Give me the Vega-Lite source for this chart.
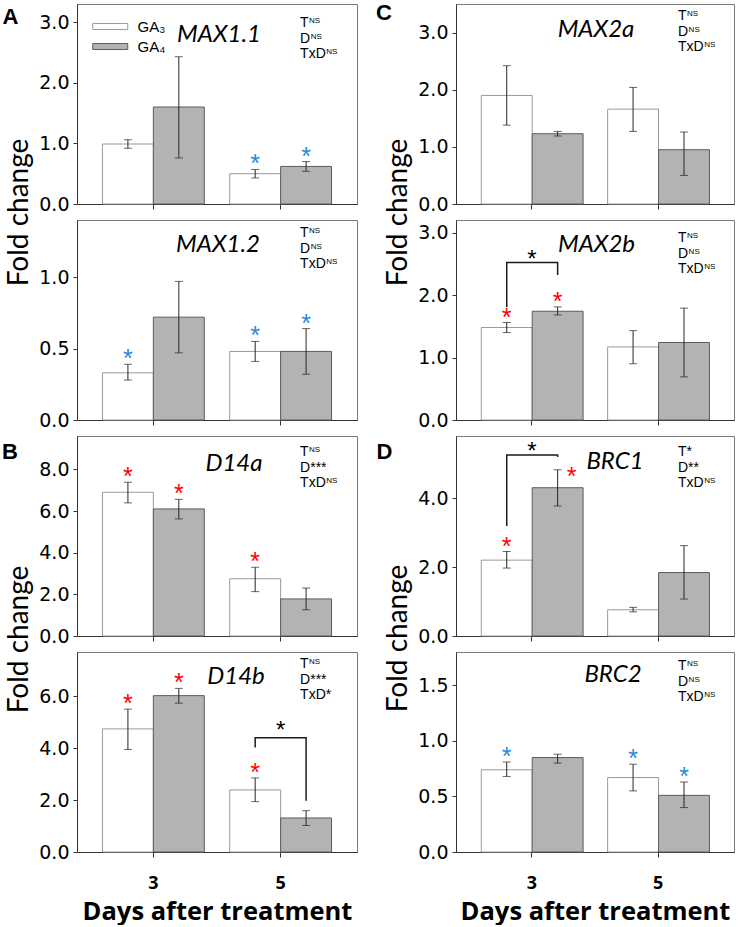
{
"$schema":"https://vega.github.io/schema/vega-lite/v6.json",
"background":"white",
"padding":{"left":1,"top":0,"right":0,"bottom":0},
"config":{
 "view":{"stroke":"#7a7a7a","strokeWidth":1},
 "axis":{"grid":false,"domainColor":"#333333","tickColor":"#333333","labelColor":"#000000","titleColor":"#000000","domainWidth":1,"tickWidth":1},
 "axisY":{"labelFont":"DejaVu Sans","labelFontSize":19,"tickSize":4,"labelPadding":4},
 "axisX":{"tickSize":5}
},
"datasets":{
 "bars":[
  {"panel":"A1","day":"3","ga":"GA3","mean":0.99,"lo":0.92,"hi":1.06,"sig":"ns"},
  {"panel":"A1","day":"3","ga":"GA4","mean":1.6,"lo":0.76,"hi":2.43,"sig":"ns"},
  {"panel":"A1","day":"5","ga":"GA3","mean":0.5,"lo":0.43,"hi":0.57,"sig":"down"},
  {"panel":"A1","day":"5","ga":"GA4","mean":0.62,"lo":0.54,"hi":0.7,"sig":"down"},
  {"panel":"A2","day":"3","ga":"GA3","mean":0.33,"lo":0.28,"hi":0.39,"sig":"down"},
  {"panel":"A2","day":"3","ga":"GA4","mean":0.72,"lo":0.47,"hi":0.97,"sig":"ns"},
  {"panel":"A2","day":"5","ga":"GA3","mean":0.48,"lo":0.41,"hi":0.55,"sig":"down"},
  {"panel":"A2","day":"5","ga":"GA4","mean":0.48,"lo":0.32,"hi":0.64,"sig":"down"},
  {"panel":"B1","day":"3","ga":"GA3","mean":6.9,"lo":6.39,"hi":7.38,"sig":"up"},
  {"panel":"B1","day":"3","ga":"GA4","mean":6.1,"lo":5.62,"hi":6.56,"sig":"up"},
  {"panel":"B1","day":"5","ga":"GA3","mean":2.75,"lo":2.13,"hi":3.3,"sig":"up"},
  {"panel":"B1","day":"5","ga":"GA4","mean":1.78,"lo":1.26,"hi":2.3,"sig":"ns"},
  {"panel":"B2","day":"3","ga":"GA3","mean":4.74,"lo":3.95,"hi":5.5,"sig":"up"},
  {"panel":"B2","day":"3","ga":"GA4","mean":6.02,"lo":5.73,"hi":6.3,"sig":"up"},
  {"panel":"B2","day":"5","ga":"GA3","mean":2.39,"lo":1.94,"hi":2.85,"sig":"up"},
  {"panel":"B2","day":"5","ga":"GA4","mean":1.31,"lo":1.02,"hi":1.59,"sig":"ns"},
  {"panel":"C1","day":"3","ga":"GA3","mean":1.9,"lo":1.38,"hi":2.42,"sig":"ns"},
  {"panel":"C1","day":"3","ga":"GA4","mean":1.23,"lo":1.19,"hi":1.27,"sig":"ns"},
  {"panel":"C1","day":"5","ga":"GA3","mean":1.66,"lo":1.27,"hi":2.04,"sig":"ns"},
  {"panel":"C1","day":"5","ga":"GA4","mean":0.95,"lo":0.5,"hi":1.26,"sig":"ns"},
  {"panel":"C2","day":"3","ga":"GA3","mean":1.48,"lo":1.4,"hi":1.56,"sig":"up"},
  {"panel":"C2","day":"3","ga":"GA4","mean":1.74,"lo":1.68,"hi":1.81,"sig":"up"},
  {"panel":"C2","day":"5","ga":"GA3","mean":1.17,"lo":0.9,"hi":1.43,"sig":"ns"},
  {"panel":"C2","day":"5","ga":"GA4","mean":1.24,"lo":0.69,"hi":1.79,"sig":"ns"},
  {"panel":"D1","day":"3","ga":"GA3","mean":2.2,"lo":1.97,"hi":2.45,"sig":"up"},
  {"panel":"D1","day":"3","ga":"GA4","mean":4.3,"lo":3.77,"hi":4.82,"sig":"up"},
  {"panel":"D1","day":"5","ga":"GA3","mean":0.76,"lo":0.7,"hi":0.83,"sig":"ns"},
  {"panel":"D1","day":"5","ga":"GA4","mean":1.84,"lo":1.07,"hi":2.62,"sig":"ns"},
  {"panel":"D2","day":"3","ga":"GA3","mean":0.74,"lo":0.68,"hi":0.81,"sig":"down"},
  {"panel":"D2","day":"3","ga":"GA4","mean":0.85,"lo":0.8,"hi":0.88,"sig":"ns"},
  {"panel":"D2","day":"5","ga":"GA3","mean":0.67,"lo":0.55,"hi":0.79,"sig":"down"},
  {"panel":"D2","day":"5","ga":"GA4","mean":0.51,"lo":0.4,"hi":0.63,"sig":"down"}
 ],
 "stats":[
  {"panel":"A1","base":"T\nD\nTxD","s1":"NS","s2":"NS","s3":"NS"},
  {"panel":"A2","base":"T\nD\nTxD","s1":"NS","s2":"NS","s3":"NS"},
  {"panel":"B1","base":"T\nD***\nTxD","s1":"NS","s2":"","s3":"NS"},
  {"panel":"B2","base":"T\nD***\nTxD*","s1":"NS","s2":"","s3":""},
  {"panel":"C1","base":"T\nD\nTxD","s1":"NS","s2":"NS","s3":"NS"},
  {"panel":"C2","base":"T\nD\nTxD","s1":"NS","s2":"NS","s3":"NS"},
  {"panel":"D1","base":"T*\nD**\nTxD","s1":"","s2":"","s3":"NS"},
  {"panel":"D2","base":"T\nD\nTxD","s1":"NS","s2":"NS","s3":"NS"}
 ],
 "brackets":[
  {"panel":"B2","day":"5","ga":"GA3","seq":1,"val":4.02},
  {"panel":"B2","day":"5","ga":"GA3","seq":2,"val":4.4},
  {"panel":"B2","day":"5","ga":"GA4","seq":3,"val":4.4},
  {"panel":"B2","day":"5","ga":"GA4","seq":4,"val":1.97},
  {"panel":"C2","day":"3","ga":"GA3","seq":1,"val":1.81},
  {"panel":"C2","day":"3","ga":"GA3","seq":2,"val":2.52},
  {"panel":"C2","day":"3","ga":"GA4","seq":3,"val":2.52},
  {"panel":"C2","day":"3","ga":"GA4","seq":4,"val":2.32},
  {"panel":"D1","day":"3","ga":"GA3","seq":1,"val":3.19},
  {"panel":"D1","day":"3","ga":"GA3","seq":2,"val":5.25},
  {"panel":"D1","day":"3","ga":"GA4","seq":3,"val":5.25},
  {"panel":"D1","day":"3","ga":"GA4","seq":4,"val":5.19}
 ]
},
"resolve":{"scale":{"fill":"independent","stroke":"independent"}},
"columns":2,
"spacing":{"row":16,"column":99},
"bounds":"flush",
"concat":[
{"width":280,"height":200,
 "title":{"text":"MAX1.1","orient":"top","anchor":"middle","frame":"group","offset":-43,"baseline":"top","dx":2,"font":"Lato","fontStyle":"italic","fontWeight":"normal","fontSize":24,"color":"black"},
 "data":{"name":"bars"},"transform":[{"filter":{"field":"panel","equal":"A1"}}],
 "layer":[
  {"mark":{"type":"bar","strokeWidth":1},"encoding":{
   "x":{"field":"day","type":"nominal","scale":{"type":"band","paddingInner":0.2,"paddingOuter":0.2},"axis":{"labels":false,"title":"A","titleX":-67,"titleY":-181,"titleAngle":0,"titleAlign":"center","titleBaseline":"alphabetic","titleFont":"Liberation Sans","titleFontWeight":"bold","titleFontSize":22}},
   "xOffset":{"field":"ga","type":"nominal","scale":{"paddingInner":0,"paddingOuter":0}},
   "y":{"field":"mean","type":"quantitative","scale":{"domain":[0,3.3],"nice":false},"axis":{"values":[0,0.5,1,1.5,2,2.5,3],"labelExpr":"datum.value % 1 === 0 ? format(datum.value, '.1f') : ''","title":"Fold change","titleAngle":-90,"titleX":-50,"titleY":208,"titleAlign":"center","titleBaseline":"alphabetic","titleFont":"Lato","titleFontWeight":"normal","titleFontSize":28}},
   "fill":{"field":"ga","type":"nominal","scale":{"domain":["GA3","GA4"],"range":["#ffffff","#b3b3b3"]},"legend":{"orient":"none","legendX":15,"legendY":13,"title":null,"symbolType":"M-1,-0.34H3V0.34H-1Z","symbolSize":306,"symbolStrokeWidth":1,"labelFont":"Liberation Sans","labelFontSize":15,"labelOffset":26.5,"rowPadding":2,"padding":0,"labelExpr":"datum.label === 'GA3' ? 'GA₃' : 'GA₄'"}},
   "stroke":{"field":"ga","type":"nominal","scale":{"domain":["GA3","GA4"],"range":["#9a9a9a","#5c5c5c"]},"legend":{"orient":"none","legendX":15,"legendY":13,"title":null,"symbolType":"M-1,-0.34H3V0.34H-1Z","symbolSize":306,"symbolStrokeWidth":1,"labelFont":"Liberation Sans","labelFontSize":15,"labelOffset":26.5,"rowPadding":2,"padding":0,"labelExpr":"datum.label === 'GA3' ? 'GA₃' : 'GA₄'"}}}},
  {"mark":{"type":"rule","color":"#262626","strokeWidth":1},"encoding":{"x":{"field":"day","type":"nominal"},"xOffset":{"field":"ga","type":"nominal"},"y":{"field":"lo","type":"quantitative"},"y2":{"field":"hi"}}},
  {"transform":[{"fold":["lo","hi"],"as":["end","val"]}],"mark":{"type":"tick","color":"#262626","thickness":1,"size":8},"encoding":{"x":{"field":"day","type":"nominal"},"xOffset":{"field":"ga","type":"nominal"},"y":{"field":"val","type":"quantitative"}}},
  {"transform":[{"filter":"datum.sig === 'up' || datum.sig === 'down'"}],"mark":{"type":"text","text":"*","font":"Liberation Sans","fontSize":25,"baseline":"alphabetic","dy":3},"encoding":{"x":{"field":"day","type":"nominal"},"xOffset":{"field":"ga","type":"nominal"},"y":{"field":"hi","type":"quantitative"},"color":{"field":"sig","type":"nominal","scale":{"domain":["down","up"],"range":["#1e8bde","#ff0000"]},"legend":null}}},
  {"data":{"name":"stats"},"transform":[{"filter":{"field":"panel","equal":"A1"}}],"mark":{"type":"text","align":"left","baseline":"top","font":"Liberation Sans","fontSize":14,"lineHeight":15.5,"lineBreak":"\n","dx":-6,"dy":12},"encoding":{"x":{"datum":"5","type":"nominal"},"xOffset":{"datum":"GA4","type":"nominal"},"y":{"datum":3.3,"type":"quantitative"},"text":{"field":"base","type":"nominal"}}},
  {"data":{"name":"stats"},"transform":[{"filter":{"field":"panel","equal":"A1"}}],"mark":{"type":"text","align":"left","baseline":"top","font":"Liberation Sans","fontSize":8,"dx":3,"dy":13},"encoding":{"x":{"datum":"5","type":"nominal"},"xOffset":{"datum":"GA4","type":"nominal"},"y":{"datum":3.3,"type":"quantitative"},"text":{"field":"s1","type":"nominal"}}},
  {"data":{"name":"stats"},"transform":[{"filter":{"field":"panel","equal":"A1"}}],"mark":{"type":"text","align":"left","baseline":"top","font":"Liberation Sans","fontSize":8,"dx":4.6,"dy":28.5},"encoding":{"x":{"datum":"5","type":"nominal"},"xOffset":{"datum":"GA4","type":"nominal"},"y":{"datum":3.3,"type":"quantitative"},"text":{"field":"s2","type":"nominal"}}},
  {"data":{"name":"stats"},"transform":[{"filter":{"field":"panel","equal":"A1"}}],"mark":{"type":"text","align":"left","baseline":"top","font":"Liberation Sans","fontSize":8,"dx":20.2,"dy":44},"encoding":{"x":{"datum":"5","type":"nominal"},"xOffset":{"datum":"GA4","type":"nominal"},"y":{"datum":3.3,"type":"quantitative"},"text":{"field":"s3","type":"nominal"}}}
 ]},
{"width":278,"height":200,
 "title":{"text":"MAX2a","orient":"top","anchor":"middle","frame":"group","offset":-41,"baseline":"top","dx":1,"font":"Lato","fontStyle":"italic","fontWeight":"normal","fontSize":24,"color":"black"},
 "data":{"name":"bars"},"transform":[{"filter":{"field":"panel","equal":"C1"}}],
 "layer":[
  {"mark":{"type":"bar","strokeWidth":1},"encoding":{
   "x":{"field":"day","type":"nominal","scale":{"type":"band","paddingInner":0.2,"paddingOuter":0.2},"axis":{"labels":false,"title":"C","titleX":-72.5,"titleY":-185,"titleAngle":0,"titleAlign":"center","titleBaseline":"alphabetic","titleFont":"Liberation Sans","titleFontWeight":"bold","titleFontSize":22}},
   "xOffset":{"field":"ga","type":"nominal","scale":{"paddingInner":0,"paddingOuter":0}},
   "y":{"field":"mean","type":"quantitative","scale":{"domain":[0,3.5],"nice":false},"axis":{"values":[0,0.5,1,1.5,2,2.5,3,3.5],"labelExpr":"datum.value % 1 === 0 ? format(datum.value, '.1f') : ''","title":"Fold change","titleAngle":-90,"titleX":-50,"titleY":208,"titleAlign":"center","titleBaseline":"alphabetic","titleFont":"Lato","titleFontWeight":"normal","titleFontSize":28}},
   "fill":{"field":"ga","type":"nominal","scale":{"domain":["GA3","GA4"],"range":["#ffffff","#b3b3b3"]},"legend":null},
   "stroke":{"field":"ga","type":"nominal","scale":{"domain":["GA3","GA4"],"range":["#9a9a9a","#5c5c5c"]},"legend":null}}},
  {"mark":{"type":"rule","color":"#262626","strokeWidth":1},"encoding":{"x":{"field":"day","type":"nominal"},"xOffset":{"field":"ga","type":"nominal"},"y":{"field":"lo","type":"quantitative"},"y2":{"field":"hi"}}},
  {"transform":[{"fold":["lo","hi"],"as":["end","val"]}],"mark":{"type":"tick","color":"#262626","thickness":1,"size":8},"encoding":{"x":{"field":"day","type":"nominal"},"xOffset":{"field":"ga","type":"nominal"},"y":{"field":"val","type":"quantitative"}}},
  {"data":{"name":"stats"},"transform":[{"filter":{"field":"panel","equal":"C1"}}],"mark":{"type":"text","align":"left","baseline":"top","font":"Liberation Sans","fontSize":14,"lineHeight":15.5,"lineBreak":"\n","dx":-6,"dy":5},"encoding":{"x":{"datum":"5","type":"nominal"},"xOffset":{"datum":"GA4","type":"nominal"},"y":{"datum":3.5,"type":"quantitative"},"text":{"field":"base","type":"nominal"}}},
  {"data":{"name":"stats"},"transform":[{"filter":{"field":"panel","equal":"C1"}}],"mark":{"type":"text","align":"left","baseline":"top","font":"Liberation Sans","fontSize":8,"dx":3,"dy":6},"encoding":{"x":{"datum":"5","type":"nominal"},"xOffset":{"datum":"GA4","type":"nominal"},"y":{"datum":3.5,"type":"quantitative"},"text":{"field":"s1","type":"nominal"}}},
  {"data":{"name":"stats"},"transform":[{"filter":{"field":"panel","equal":"C1"}}],"mark":{"type":"text","align":"left","baseline":"top","font":"Liberation Sans","fontSize":8,"dx":4.6,"dy":21.5},"encoding":{"x":{"datum":"5","type":"nominal"},"xOffset":{"datum":"GA4","type":"nominal"},"y":{"datum":3.5,"type":"quantitative"},"text":{"field":"s2","type":"nominal"}}},
  {"data":{"name":"stats"},"transform":[{"filter":{"field":"panel","equal":"C1"}}],"mark":{"type":"text","align":"left","baseline":"top","font":"Liberation Sans","fontSize":8,"dx":20.2,"dy":37},"encoding":{"x":{"datum":"5","type":"nominal"},"xOffset":{"datum":"GA4","type":"nominal"},"y":{"datum":3.5,"type":"quantitative"},"text":{"field":"s3","type":"nominal"}}}
 ]},
{"width":280,"height":200,
 "title":{"text":"MAX1.2","orient":"top","anchor":"middle","frame":"group","offset":-37,"baseline":"top","dx":1,"font":"Lato","fontStyle":"italic","fontWeight":"normal","fontSize":24,"color":"black"},
 "data":{"name":"bars"},"transform":[{"filter":{"field":"panel","equal":"A2"}}],
 "layer":[
  {"mark":{"type":"bar","strokeWidth":1},"encoding":{
   "x":{"field":"day","type":"nominal","scale":{"type":"band","paddingInner":0.2,"paddingOuter":0.2},"axis":{"title":null,"labels":false}},
   "xOffset":{"field":"ga","type":"nominal","scale":{"paddingInner":0,"paddingOuter":0}},
   "y":{"field":"mean","type":"quantitative","scale":{"domain":[0,1.4],"nice":false},"axis":{"values":[0,0.25,0.5,0.75,1,1.25],"labelExpr":"(datum.value * 4) % 2 === 0 ? format(datum.value, '.1f') : ''","title":null}},
   "fill":{"field":"ga","type":"nominal","scale":{"domain":["GA3","GA4"],"range":["#ffffff","#b3b3b3"]},"legend":null},
   "stroke":{"field":"ga","type":"nominal","scale":{"domain":["GA3","GA4"],"range":["#9a9a9a","#5c5c5c"]},"legend":null}}},
  {"mark":{"type":"rule","color":"#262626","strokeWidth":1},"encoding":{"x":{"field":"day","type":"nominal"},"xOffset":{"field":"ga","type":"nominal"},"y":{"field":"lo","type":"quantitative"},"y2":{"field":"hi"}}},
  {"transform":[{"fold":["lo","hi"],"as":["end","val"]}],"mark":{"type":"tick","color":"#262626","thickness":1,"size":8},"encoding":{"x":{"field":"day","type":"nominal"},"xOffset":{"field":"ga","type":"nominal"},"y":{"field":"val","type":"quantitative"}}},
  {"transform":[{"filter":"datum.sig === 'up' || datum.sig === 'down'"}],"mark":{"type":"text","text":"*","font":"Liberation Sans","fontSize":25,"baseline":"alphabetic","dy":3},"encoding":{"x":{"field":"day","type":"nominal"},"xOffset":{"field":"ga","type":"nominal"},"y":{"field":"hi","type":"quantitative"},"color":{"field":"sig","type":"nominal","scale":{"domain":["down","up"],"range":["#1e8bde","#ff0000"]},"legend":null}}},
  {"data":{"name":"stats"},"transform":[{"filter":{"field":"panel","equal":"A2"}}],"mark":{"type":"text","align":"left","baseline":"top","font":"Liberation Sans","fontSize":14,"lineHeight":15.5,"lineBreak":"\n","dx":-6,"dy":6},"encoding":{"x":{"datum":"5","type":"nominal"},"xOffset":{"datum":"GA4","type":"nominal"},"y":{"datum":1.4,"type":"quantitative"},"text":{"field":"base","type":"nominal"}}},
  {"data":{"name":"stats"},"transform":[{"filter":{"field":"panel","equal":"A2"}}],"mark":{"type":"text","align":"left","baseline":"top","font":"Liberation Sans","fontSize":8,"dx":3,"dy":7},"encoding":{"x":{"datum":"5","type":"nominal"},"xOffset":{"datum":"GA4","type":"nominal"},"y":{"datum":1.4,"type":"quantitative"},"text":{"field":"s1","type":"nominal"}}},
  {"data":{"name":"stats"},"transform":[{"filter":{"field":"panel","equal":"A2"}}],"mark":{"type":"text","align":"left","baseline":"top","font":"Liberation Sans","fontSize":8,"dx":4.6,"dy":22.5},"encoding":{"x":{"datum":"5","type":"nominal"},"xOffset":{"datum":"GA4","type":"nominal"},"y":{"datum":1.4,"type":"quantitative"},"text":{"field":"s2","type":"nominal"}}},
  {"data":{"name":"stats"},"transform":[{"filter":{"field":"panel","equal":"A2"}}],"mark":{"type":"text","align":"left","baseline":"top","font":"Liberation Sans","fontSize":8,"dx":20.2,"dy":38},"encoding":{"x":{"datum":"5","type":"nominal"},"xOffset":{"datum":"GA4","type":"nominal"},"y":{"datum":1.4,"type":"quantitative"},"text":{"field":"s3","type":"nominal"}}}
 ]},
{"width":278,"height":200,
 "title":{"text":"MAX2b","orient":"top","anchor":"middle","frame":"group","offset":-37,"baseline":"top","dx":1.5,"font":"Lato","fontStyle":"italic","fontWeight":"normal","fontSize":24,"color":"black"},
 "data":{"name":"bars"},"transform":[{"filter":{"field":"panel","equal":"C2"}}],
 "layer":[
  {"mark":{"type":"bar","strokeWidth":1},"encoding":{
   "x":{"field":"day","type":"nominal","scale":{"type":"band","paddingInner":0.2,"paddingOuter":0.2},"axis":{"title":null,"labels":false}},
   "xOffset":{"field":"ga","type":"nominal","scale":{"paddingInner":0,"paddingOuter":0}},
   "y":{"field":"mean","type":"quantitative","scale":{"domain":[0,3.2],"nice":false},"axis":{"values":[0,0.5,1,1.5,2,2.5,3],"labelExpr":"datum.value % 1 === 0 ? format(datum.value, '.1f') : ''","title":null}},
   "fill":{"field":"ga","type":"nominal","scale":{"domain":["GA3","GA4"],"range":["#ffffff","#b3b3b3"]},"legend":null},
   "stroke":{"field":"ga","type":"nominal","scale":{"domain":["GA3","GA4"],"range":["#9a9a9a","#5c5c5c"]},"legend":null}}},
  {"mark":{"type":"rule","color":"#262626","strokeWidth":1},"encoding":{"x":{"field":"day","type":"nominal"},"xOffset":{"field":"ga","type":"nominal"},"y":{"field":"lo","type":"quantitative"},"y2":{"field":"hi"}}},
  {"transform":[{"fold":["lo","hi"],"as":["end","val"]}],"mark":{"type":"tick","color":"#262626","thickness":1,"size":8},"encoding":{"x":{"field":"day","type":"nominal"},"xOffset":{"field":"ga","type":"nominal"},"y":{"field":"val","type":"quantitative"}}},
  {"transform":[{"filter":"datum.sig === 'up' || datum.sig === 'down'"}],"mark":{"type":"text","text":"*","font":"Liberation Sans","fontSize":25,"baseline":"alphabetic","dy":3},"encoding":{"x":{"field":"day","type":"nominal"},"xOffset":{"field":"ga","type":"nominal"},"y":{"field":"hi","type":"quantitative"},"color":{"field":"sig","type":"nominal","scale":{"domain":["down","up"],"range":["#1e8bde","#ff0000"]},"legend":null}}},
  {"data":{"name":"brackets"},"transform":[{"filter":{"field":"panel","equal":"C2"}}],"mark":{"type":"line","color":"#1a1a1a","strokeWidth":1.5},"encoding":{"x":{"field":"day","type":"nominal"},"xOffset":{"field":"ga","type":"nominal"},"y":{"field":"val","type":"quantitative"},"order":{"field":"seq","type":"quantitative"}}},
  {"data":{"name":"brackets"},"transform":[{"filter":"datum.panel === 'C2' && datum.seq === 2"}],"mark":{"type":"text","text":"*","font":"Liberation Sans","fontSize":24,"baseline":"alphabetic","dy":4,"color":"#000000"},"encoding":{"x":{"field":"day","type":"nominal"},"y":{"field":"val","type":"quantitative"}}},
  {"data":{"name":"stats"},"transform":[{"filter":{"field":"panel","equal":"C2"}}],"mark":{"type":"text","align":"left","baseline":"top","font":"Liberation Sans","fontSize":14,"lineHeight":15.5,"lineBreak":"\n","dx":-6,"dy":11},"encoding":{"x":{"datum":"5","type":"nominal"},"xOffset":{"datum":"GA4","type":"nominal"},"y":{"datum":3.2,"type":"quantitative"},"text":{"field":"base","type":"nominal"}}},
  {"data":{"name":"stats"},"transform":[{"filter":{"field":"panel","equal":"C2"}}],"mark":{"type":"text","align":"left","baseline":"top","font":"Liberation Sans","fontSize":8,"dx":3,"dy":12},"encoding":{"x":{"datum":"5","type":"nominal"},"xOffset":{"datum":"GA4","type":"nominal"},"y":{"datum":3.2,"type":"quantitative"},"text":{"field":"s1","type":"nominal"}}},
  {"data":{"name":"stats"},"transform":[{"filter":{"field":"panel","equal":"C2"}}],"mark":{"type":"text","align":"left","baseline":"top","font":"Liberation Sans","fontSize":8,"dx":4.6,"dy":27.5},"encoding":{"x":{"datum":"5","type":"nominal"},"xOffset":{"datum":"GA4","type":"nominal"},"y":{"datum":3.2,"type":"quantitative"},"text":{"field":"s2","type":"nominal"}}},
  {"data":{"name":"stats"},"transform":[{"filter":{"field":"panel","equal":"C2"}}],"mark":{"type":"text","align":"left","baseline":"top","font":"Liberation Sans","fontSize":8,"dx":20.2,"dy":43},"encoding":{"x":{"datum":"5","type":"nominal"},"xOffset":{"datum":"GA4","type":"nominal"},"y":{"datum":3.2,"type":"quantitative"},"text":{"field":"s3","type":"nominal"}}}
 ]},
{"width":280,"height":200,
 "title":{"text":"D14a","orient":"top","anchor":"middle","frame":"group","offset":-40,"baseline":"top","dx":17,"font":"Lato","fontStyle":"italic","fontWeight":"normal","fontSize":24,"color":"black"},
 "data":{"name":"bars"},"transform":[{"filter":{"field":"panel","equal":"B1"}}],
 "layer":[
  {"mark":{"type":"bar","strokeWidth":1},"encoding":{
   "x":{"field":"day","type":"nominal","scale":{"type":"band","paddingInner":0.2,"paddingOuter":0.2},"axis":{"labels":false,"title":"B","titleX":-67.5,"titleY":-178,"titleAngle":0,"titleAlign":"center","titleBaseline":"alphabetic","titleFont":"Liberation Sans","titleFontWeight":"bold","titleFontSize":22}},
   "xOffset":{"field":"ga","type":"nominal","scale":{"paddingInner":0,"paddingOuter":0}},
   "y":{"field":"mean","type":"quantitative","scale":{"domain":[0,9.6],"nice":false},"axis":{"values":[0,1,2,3,4,5,6,7,8,9],"labelExpr":"datum.value % 2 === 0 ? format(datum.value, '.1f') : ''","title":"Fold change","titleAngle":-90,"titleX":-50,"titleY":203,"titleAlign":"center","titleBaseline":"alphabetic","titleFont":"Lato","titleFontWeight":"normal","titleFontSize":28}},
   "fill":{"field":"ga","type":"nominal","scale":{"domain":["GA3","GA4"],"range":["#ffffff","#b3b3b3"]},"legend":null},
   "stroke":{"field":"ga","type":"nominal","scale":{"domain":["GA3","GA4"],"range":["#9a9a9a","#5c5c5c"]},"legend":null}}},
  {"mark":{"type":"rule","color":"#262626","strokeWidth":1},"encoding":{"x":{"field":"day","type":"nominal"},"xOffset":{"field":"ga","type":"nominal"},"y":{"field":"lo","type":"quantitative"},"y2":{"field":"hi"}}},
  {"transform":[{"fold":["lo","hi"],"as":["end","val"]}],"mark":{"type":"tick","color":"#262626","thickness":1,"size":8},"encoding":{"x":{"field":"day","type":"nominal"},"xOffset":{"field":"ga","type":"nominal"},"y":{"field":"val","type":"quantitative"}}},
  {"transform":[{"filter":"datum.sig === 'up' || datum.sig === 'down'"}],"mark":{"type":"text","text":"*","font":"Liberation Sans","fontSize":25,"baseline":"alphabetic","dy":3},"encoding":{"x":{"field":"day","type":"nominal"},"xOffset":{"field":"ga","type":"nominal"},"y":{"field":"hi","type":"quantitative"},"color":{"field":"sig","type":"nominal","scale":{"domain":["down","up"],"range":["#1e8bde","#ff0000"]},"legend":null}}},
  {"data":{"name":"stats"},"transform":[{"filter":{"field":"panel","equal":"B1"}}],"mark":{"type":"text","align":"left","baseline":"top","font":"Liberation Sans","fontSize":14,"lineHeight":15.5,"lineBreak":"\n","dx":-6,"dy":9},"encoding":{"x":{"datum":"5","type":"nominal"},"xOffset":{"datum":"GA4","type":"nominal"},"y":{"datum":9.6,"type":"quantitative"},"text":{"field":"base","type":"nominal"}}},
  {"data":{"name":"stats"},"transform":[{"filter":{"field":"panel","equal":"B1"}}],"mark":{"type":"text","align":"left","baseline":"top","font":"Liberation Sans","fontSize":8,"dx":3,"dy":10},"encoding":{"x":{"datum":"5","type":"nominal"},"xOffset":{"datum":"GA4","type":"nominal"},"y":{"datum":9.6,"type":"quantitative"},"text":{"field":"s1","type":"nominal"}}},
  {"data":{"name":"stats"},"transform":[{"filter":{"field":"panel","equal":"B1"}}],"mark":{"type":"text","align":"left","baseline":"top","font":"Liberation Sans","fontSize":8,"dx":4.6,"dy":25.5},"encoding":{"x":{"datum":"5","type":"nominal"},"xOffset":{"datum":"GA4","type":"nominal"},"y":{"datum":9.6,"type":"quantitative"},"text":{"field":"s2","type":"nominal"}}},
  {"data":{"name":"stats"},"transform":[{"filter":{"field":"panel","equal":"B1"}}],"mark":{"type":"text","align":"left","baseline":"top","font":"Liberation Sans","fontSize":8,"dx":20.2,"dy":41},"encoding":{"x":{"datum":"5","type":"nominal"},"xOffset":{"datum":"GA4","type":"nominal"},"y":{"datum":9.6,"type":"quantitative"},"text":{"field":"s3","type":"nominal"}}}
 ]},
{"width":278,"height":200,
 "title":{"text":"BRC1","orient":"top","anchor":"middle","frame":"group","offset":-38,"baseline":"top","dx":20,"font":"Lato","fontStyle":"italic","fontWeight":"normal","fontSize":24,"color":"black"},
 "data":{"name":"bars"},"transform":[{"filter":{"field":"panel","equal":"D1"}}],
 "layer":[
  {"mark":{"type":"bar","strokeWidth":1},"encoding":{
   "x":{"field":"day","type":"nominal","scale":{"type":"band","paddingInner":0.2,"paddingOuter":0.2},"axis":{"labels":false,"title":"D","titleX":-72,"titleY":-178,"titleAngle":0,"titleAlign":"center","titleBaseline":"alphabetic","titleFont":"Liberation Sans","titleFontWeight":"bold","titleFontSize":22}},
   "xOffset":{"field":"ga","type":"nominal","scale":{"paddingInner":0,"paddingOuter":0}},
   "y":{"field":"mean","type":"quantitative","scale":{"domain":[0,5.8],"nice":false},"axis":{"values":[0,0.5,1,1.5,2,2.5,3,3.5,4,4.5,5,5.5],"labelExpr":"datum.value % 1 === 0 ? format(datum.value, '.1f') : ''","title":"Fold change","titleAngle":-90,"titleX":-50,"titleY":202,"titleAlign":"center","titleBaseline":"alphabetic","titleFont":"Lato","titleFontWeight":"normal","titleFontSize":28}},
   "fill":{"field":"ga","type":"nominal","scale":{"domain":["GA3","GA4"],"range":["#ffffff","#b3b3b3"]},"legend":null},
   "stroke":{"field":"ga","type":"nominal","scale":{"domain":["GA3","GA4"],"range":["#9a9a9a","#5c5c5c"]},"legend":null}}},
  {"mark":{"type":"rule","color":"#262626","strokeWidth":1},"encoding":{"x":{"field":"day","type":"nominal"},"xOffset":{"field":"ga","type":"nominal"},"y":{"field":"lo","type":"quantitative"},"y2":{"field":"hi"}}},
  {"transform":[{"fold":["lo","hi"],"as":["end","val"]}],"mark":{"type":"tick","color":"#262626","thickness":1,"size":8},"encoding":{"x":{"field":"day","type":"nominal"},"xOffset":{"field":"ga","type":"nominal"},"y":{"field":"val","type":"quantitative"}}},
  {"transform":[{"filter":"(datum.sig === 'up' || datum.sig === 'down') && !(datum.day === '3' && datum.ga === 'GA4')"}],"mark":{"type":"text","text":"*","font":"Liberation Sans","fontSize":25,"baseline":"alphabetic","dy":3},"encoding":{"x":{"field":"day","type":"nominal"},"xOffset":{"field":"ga","type":"nominal"},"y":{"field":"hi","type":"quantitative"},"color":{"field":"sig","type":"nominal","scale":{"domain":["down","up"],"range":["#1e8bde","#ff0000"]},"legend":null}}},
  {"transform":[{"filter":"datum.day === '3' && datum.ga === 'GA4'"}],"mark":{"type":"text","text":"*","font":"Liberation Sans","fontSize":25,"baseline":"alphabetic","dx":14,"dy":15},"encoding":{"x":{"field":"day","type":"nominal"},"xOffset":{"field":"ga","type":"nominal"},"y":{"field":"hi","type":"quantitative"},"color":{"field":"sig","type":"nominal","scale":{"domain":["down","up"],"range":["#1e8bde","#ff0000"]},"legend":null}}},
  {"data":{"name":"brackets"},"transform":[{"filter":{"field":"panel","equal":"D1"}}],"mark":{"type":"line","color":"#1a1a1a","strokeWidth":1.5},"encoding":{"x":{"field":"day","type":"nominal"},"xOffset":{"field":"ga","type":"nominal"},"y":{"field":"val","type":"quantitative"},"order":{"field":"seq","type":"quantitative"}}},
  {"data":{"name":"brackets"},"transform":[{"filter":"datum.panel === 'D1' && datum.seq === 2"}],"mark":{"type":"text","text":"*","font":"Liberation Sans","fontSize":24,"baseline":"alphabetic","dy":4,"color":"#000000"},"encoding":{"x":{"field":"day","type":"nominal"},"y":{"field":"val","type":"quantitative"}}},
  {"data":{"name":"stats"},"transform":[{"filter":{"field":"panel","equal":"D1"}}],"mark":{"type":"text","align":"left","baseline":"top","font":"Liberation Sans","fontSize":14,"lineHeight":15.5,"lineBreak":"\n","dx":-6,"dy":9},"encoding":{"x":{"datum":"5","type":"nominal"},"xOffset":{"datum":"GA4","type":"nominal"},"y":{"datum":5.8,"type":"quantitative"},"text":{"field":"base","type":"nominal"}}},
  {"data":{"name":"stats"},"transform":[{"filter":{"field":"panel","equal":"D1"}}],"mark":{"type":"text","align":"left","baseline":"top","font":"Liberation Sans","fontSize":8,"dx":3,"dy":10},"encoding":{"x":{"datum":"5","type":"nominal"},"xOffset":{"datum":"GA4","type":"nominal"},"y":{"datum":5.8,"type":"quantitative"},"text":{"field":"s1","type":"nominal"}}},
  {"data":{"name":"stats"},"transform":[{"filter":{"field":"panel","equal":"D1"}}],"mark":{"type":"text","align":"left","baseline":"top","font":"Liberation Sans","fontSize":8,"dx":4.6,"dy":25.5},"encoding":{"x":{"datum":"5","type":"nominal"},"xOffset":{"datum":"GA4","type":"nominal"},"y":{"datum":5.8,"type":"quantitative"},"text":{"field":"s2","type":"nominal"}}},
  {"data":{"name":"stats"},"transform":[{"filter":{"field":"panel","equal":"D1"}}],"mark":{"type":"text","align":"left","baseline":"top","font":"Liberation Sans","fontSize":8,"dx":20.2,"dy":41},"encoding":{"x":{"datum":"5","type":"nominal"},"xOffset":{"datum":"GA4","type":"nominal"},"y":{"datum":5.8,"type":"quantitative"},"text":{"field":"s3","type":"nominal"}}}
 ]},
{"width":280,"height":200,
 "title":{"text":"D14b","orient":"top","anchor":"middle","frame":"group","offset":-37,"baseline":"top","dx":19,"font":"Lato","fontStyle":"italic","fontWeight":"normal","fontSize":24,"color":"black"},
 "data":{"name":"bars"},"transform":[{"filter":{"field":"panel","equal":"B2"}}],
 "layer":[
  {"mark":{"type":"bar","strokeWidth":1},"encoding":{
   "x":{"field":"day","type":"nominal","scale":{"type":"band","paddingInner":0.2,"paddingOuter":0.2},"axis":{"title":"Days after treatment","labelAngle":0,"labelFont":"Open Sans","labelFontWeight":"bold","labelFontSize":18,"labelPadding":17,"titleFont":"Open Sans","titleFontWeight":"bold","titleFontSize":25.5,"titlePadding":7}},
   "xOffset":{"field":"ga","type":"nominal","scale":{"paddingInner":0,"paddingOuter":0}},
   "y":{"field":"mean","type":"quantitative","scale":{"domain":[0,7.7],"nice":false},"axis":{"values":[0,1,2,3,4,5,6,7],"labelExpr":"datum.value % 2 === 0 ? format(datum.value, '.1f') : ''","title":null}},
   "fill":{"field":"ga","type":"nominal","scale":{"domain":["GA3","GA4"],"range":["#ffffff","#b3b3b3"]},"legend":null},
   "stroke":{"field":"ga","type":"nominal","scale":{"domain":["GA3","GA4"],"range":["#9a9a9a","#5c5c5c"]},"legend":null}}},
  {"mark":{"type":"rule","color":"#262626","strokeWidth":1},"encoding":{"x":{"field":"day","type":"nominal"},"xOffset":{"field":"ga","type":"nominal"},"y":{"field":"lo","type":"quantitative"},"y2":{"field":"hi"}}},
  {"transform":[{"fold":["lo","hi"],"as":["end","val"]}],"mark":{"type":"tick","color":"#262626","thickness":1,"size":8},"encoding":{"x":{"field":"day","type":"nominal"},"xOffset":{"field":"ga","type":"nominal"},"y":{"field":"val","type":"quantitative"}}},
  {"transform":[{"filter":"datum.sig === 'up' || datum.sig === 'down'"}],"mark":{"type":"text","text":"*","font":"Liberation Sans","fontSize":25,"baseline":"alphabetic","dy":3},"encoding":{"x":{"field":"day","type":"nominal"},"xOffset":{"field":"ga","type":"nominal"},"y":{"field":"hi","type":"quantitative"},"color":{"field":"sig","type":"nominal","scale":{"domain":["down","up"],"range":["#1e8bde","#ff0000"]},"legend":null}}},
  {"data":{"name":"brackets"},"transform":[{"filter":{"field":"panel","equal":"B2"}}],"mark":{"type":"line","color":"#1a1a1a","strokeWidth":1.5},"encoding":{"x":{"field":"day","type":"nominal"},"xOffset":{"field":"ga","type":"nominal"},"y":{"field":"val","type":"quantitative"},"order":{"field":"seq","type":"quantitative"}}},
  {"data":{"name":"brackets"},"transform":[{"filter":"datum.panel === 'B2' && datum.seq === 2"}],"mark":{"type":"text","text":"*","font":"Liberation Sans","fontSize":24,"baseline":"alphabetic","dy":0,"color":"#000000"},"encoding":{"x":{"field":"day","type":"nominal"},"y":{"field":"val","type":"quantitative"}}},
  {"data":{"name":"stats"},"transform":[{"filter":{"field":"panel","equal":"B2"}}],"mark":{"type":"text","align":"left","baseline":"top","font":"Liberation Sans","fontSize":14,"lineHeight":15.5,"lineBreak":"\n","dx":-6,"dy":5},"encoding":{"x":{"datum":"5","type":"nominal"},"xOffset":{"datum":"GA4","type":"nominal"},"y":{"datum":7.7,"type":"quantitative"},"text":{"field":"base","type":"nominal"}}},
  {"data":{"name":"stats"},"transform":[{"filter":{"field":"panel","equal":"B2"}}],"mark":{"type":"text","align":"left","baseline":"top","font":"Liberation Sans","fontSize":8,"dx":3,"dy":6},"encoding":{"x":{"datum":"5","type":"nominal"},"xOffset":{"datum":"GA4","type":"nominal"},"y":{"datum":7.7,"type":"quantitative"},"text":{"field":"s1","type":"nominal"}}},
  {"data":{"name":"stats"},"transform":[{"filter":{"field":"panel","equal":"B2"}}],"mark":{"type":"text","align":"left","baseline":"top","font":"Liberation Sans","fontSize":8,"dx":4.6,"dy":21.5},"encoding":{"x":{"datum":"5","type":"nominal"},"xOffset":{"datum":"GA4","type":"nominal"},"y":{"datum":7.7,"type":"quantitative"},"text":{"field":"s2","type":"nominal"}}},
  {"data":{"name":"stats"},"transform":[{"filter":{"field":"panel","equal":"B2"}}],"mark":{"type":"text","align":"left","baseline":"top","font":"Liberation Sans","fontSize":8,"dx":20.2,"dy":37},"encoding":{"x":{"datum":"5","type":"nominal"},"xOffset":{"datum":"GA4","type":"nominal"},"y":{"datum":7.7,"type":"quantitative"},"text":{"field":"s3","type":"nominal"}}}
 ]},
{"width":278,"height":200,
 "title":{"text":"BRC2","orient":"top","anchor":"middle","frame":"group","offset":-35,"baseline":"top","dx":18,"font":"Lato","fontStyle":"italic","fontWeight":"normal","fontSize":24,"color":"black"},
 "data":{"name":"bars"},"transform":[{"filter":{"field":"panel","equal":"D2"}}],
 "layer":[
  {"mark":{"type":"bar","strokeWidth":1},"encoding":{
   "x":{"field":"day","type":"nominal","scale":{"type":"band","paddingInner":0.2,"paddingOuter":0.2},"axis":{"title":"Days after treatment","labelAngle":0,"labelFont":"Open Sans","labelFontWeight":"bold","labelFontSize":18,"labelPadding":17,"titleFont":"Open Sans","titleFontWeight":"bold","titleFontSize":25.5,"titlePadding":7}},
   "xOffset":{"field":"ga","type":"nominal","scale":{"paddingInner":0,"paddingOuter":0}},
   "y":{"field":"mean","type":"quantitative","scale":{"domain":[0,1.8],"nice":false},"axis":{"values":[0,0.25,0.5,0.75,1,1.25,1.5,1.75],"labelExpr":"(datum.value * 4) % 2 === 0 ? format(datum.value, '.1f') : ''","title":null}},
   "fill":{"field":"ga","type":"nominal","scale":{"domain":["GA3","GA4"],"range":["#ffffff","#b3b3b3"]},"legend":null},
   "stroke":{"field":"ga","type":"nominal","scale":{"domain":["GA3","GA4"],"range":["#9a9a9a","#5c5c5c"]},"legend":null}}},
  {"mark":{"type":"rule","color":"#262626","strokeWidth":1},"encoding":{"x":{"field":"day","type":"nominal"},"xOffset":{"field":"ga","type":"nominal"},"y":{"field":"lo","type":"quantitative"},"y2":{"field":"hi"}}},
  {"transform":[{"fold":["lo","hi"],"as":["end","val"]}],"mark":{"type":"tick","color":"#262626","thickness":1,"size":8},"encoding":{"x":{"field":"day","type":"nominal"},"xOffset":{"field":"ga","type":"nominal"},"y":{"field":"val","type":"quantitative"}}},
  {"transform":[{"filter":"datum.sig === 'up' || datum.sig === 'down'"}],"mark":{"type":"text","text":"*","font":"Liberation Sans","fontSize":25,"baseline":"alphabetic","dy":3},"encoding":{"x":{"field":"day","type":"nominal"},"xOffset":{"field":"ga","type":"nominal"},"y":{"field":"hi","type":"quantitative"},"color":{"field":"sig","type":"nominal","scale":{"domain":["down","up"],"range":["#1e8bde","#ff0000"]},"legend":null}}},
  {"data":{"name":"stats"},"transform":[{"filter":{"field":"panel","equal":"D2"}}],"mark":{"type":"text","align":"left","baseline":"top","font":"Liberation Sans","fontSize":14,"lineHeight":15.5,"lineBreak":"\n","dx":-6,"dy":7},"encoding":{"x":{"datum":"5","type":"nominal"},"xOffset":{"datum":"GA4","type":"nominal"},"y":{"datum":1.8,"type":"quantitative"},"text":{"field":"base","type":"nominal"}}},
  {"data":{"name":"stats"},"transform":[{"filter":{"field":"panel","equal":"D2"}}],"mark":{"type":"text","align":"left","baseline":"top","font":"Liberation Sans","fontSize":8,"dx":3,"dy":8},"encoding":{"x":{"datum":"5","type":"nominal"},"xOffset":{"datum":"GA4","type":"nominal"},"y":{"datum":1.8,"type":"quantitative"},"text":{"field":"s1","type":"nominal"}}},
  {"data":{"name":"stats"},"transform":[{"filter":{"field":"panel","equal":"D2"}}],"mark":{"type":"text","align":"left","baseline":"top","font":"Liberation Sans","fontSize":8,"dx":4.6,"dy":23.5},"encoding":{"x":{"datum":"5","type":"nominal"},"xOffset":{"datum":"GA4","type":"nominal"},"y":{"datum":1.8,"type":"quantitative"},"text":{"field":"s2","type":"nominal"}}},
  {"data":{"name":"stats"},"transform":[{"filter":{"field":"panel","equal":"D2"}}],"mark":{"type":"text","align":"left","baseline":"top","font":"Liberation Sans","fontSize":8,"dx":20.2,"dy":39},"encoding":{"x":{"datum":"5","type":"nominal"},"xOffset":{"datum":"GA4","type":"nominal"},"y":{"datum":1.8,"type":"quantitative"},"text":{"field":"s3","type":"nominal"}}}
 ]}
]
}
